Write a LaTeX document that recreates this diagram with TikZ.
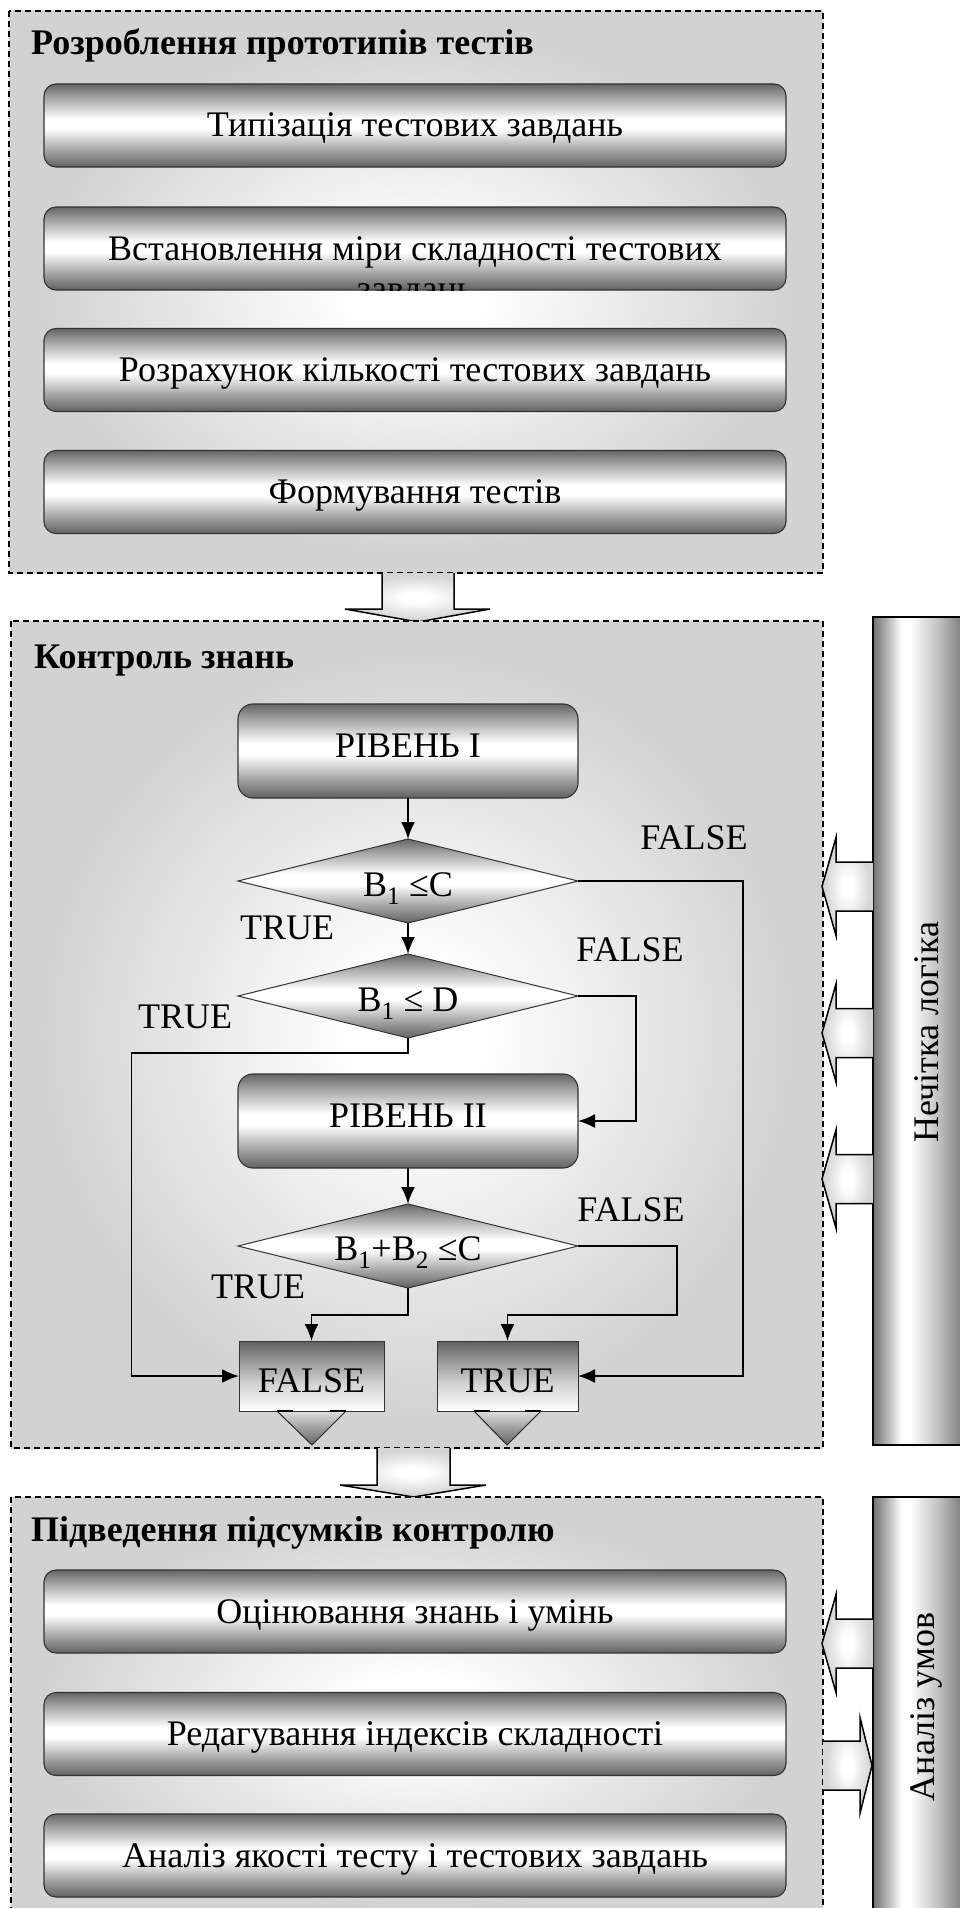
\documentclass[tikz,border=0pt]{standalone}
\usepackage{fontspec}
\setmainfont{Liberation Serif}
\usetikzlibrary{shapes.geometric,arrows.meta}
\definecolor{secgray}{RGB}{210,210,210}
\pgfdeclareverticalshading{cylv}{100bp}{color(0bp)=(black!62); color(25bp)=(black!62); color(35bp)=(black!36); color(48bp)=(white); color(54bp)=(white); color(66bp)=(black!33); color(75bp)=(black!60); color(100bp)=(black!60)}
\pgfdeclarehorizontalshading{barh}{100bp}{color(0bp)=(black!55); color(25bp)=(black!55); color(31bp)=(black!36); color(41bp)=(white); color(46bp)=(white); color(62bp)=(black!25); color(75bp)=(black!50); color(100bp)=(black!50)}
\pgfdeclareverticalshading{ftv}{100bp}{color(0bp)=(white); color(25bp)=(white); color(45bp)=(black!18); color(62bp)=(black!42); color(75bp)=(black!62); color(100bp)=(black!62)}
\pgfdeclareverticalshading{triv}{100bp}{color(0bp)=(black!62); color(25bp)=(black!62); color(75bp)=(black!13); color(100bp)=(black!13)}
\pgfdeclareradialshading{secrad}{\pgfpoint{0bp}{0bp}}{color(0bp)=(white); color(4bp)=(white); color(23bp)=(secgray); color(50bp)=(secgray)}
\pgfdeclareradialshading{arrrad}{\pgfpoint{0bp}{0bp}}{color(0bp)=(white); color(5bp)=(white); color(22bp)=(black!16); color(50bp)=(black!16)}
\tikzset{
 sec/.style={draw=black, line width=1.3pt, dash pattern=on 6pt off 4pt, shading=secrad},
 sectitle/.style={font=\fontsize{36}{42}\selectfont\bfseries, anchor=base west, inner sep=0pt},
 txt/.style={font=\fontsize{36}{42}\selectfont},
 cyl/.style={draw=black!80, line width=1.1pt, rounded corners=12pt, shading=cylv, minimum width=742pt, minimum height=83pt, inner sep=0pt, outer sep=0pt, txt, text height=23pt, text depth=0pt},
 lvl/.style={cyl, rounded corners=15pt, minimum width=340pt, minimum height=94pt, text height=22pt, text depth=10pt},
 dia/.style={diamond, draw=black!80, line width=1pt, shading=cylv, aspect=4, minimum width=340pt, minimum height=84pt, inner sep=0pt, outer sep=0pt, txt, text height=30pt, text depth=0pt},
 res/.style={draw=black!80, line width=1pt, shading=ftv, minimum height=70pt, inner sep=0pt, outer sep=0pt, txt, text height=32pt, text depth=0pt},
 lbl/.style={txt, inner sep=0pt},
 conn/.style={line width=1.8pt, -{Latex[length=17pt,width=14pt]}},
 blkline/.style={draw=black, line width=1.5pt},
 sidebar/.style={draw=black, line width=1.5pt, shading=barh, inner sep=0pt, outer sep=0pt},
 tri/.style={shading=triv},
}
\newcommand\lblk[1]{%
 \shade[shading=arrrad] (873,#1-24.5) -- (836,#1-24.5) -- (836,#1-49) -- (822,#1) -- (836,#1+49) -- (836,#1+24.5) -- (873,#1+24.5) -- cycle;
 \draw[blkline] (873,#1-24.5) -- (836,#1-24.5) -- (836,#1-49) -- (822,#1) -- (836,#1+49) -- (836,#1+24.5) -- (873,#1+24.5);}
\newcommand\rblk[1]{%
 \shade[shading=arrrad] (823,#1-24.5) -- (860,#1-24.5) -- (860,#1-48) -- (872,#1) -- (860,#1+48) -- (860,#1+24.5) -- (823,#1+24.5) -- cycle;
 \draw[blkline] (823,#1-24.5) -- (860,#1-24.5) -- (860,#1-48) -- (872,#1) -- (860,#1+48) -- (860,#1+24.5) -- (823,#1+24.5);}
\newcommand\dblk[5]{%
 \shade[shading=arrrad] (#1,#3) -- (#1,#4) -- ({#1-37},#4) -- ({(#1+#2)/2},#5) -- ({#2+36},#4) -- (#2,#4) -- (#2,#3) -- cycle;
 \draw[blkline] (#1,#3) -- (#1,#4) -- ({#1-37},#4) -- ({(#1+#2)/2},#5) -- ({#2+36},#4) -- (#2,#4) -- (#2,#3);}
\newcommand\tridown[5]{%
 \shade[tri] (#1,1411) -- (#4,1411) -- (#5,1445) -- cycle;
 \draw[line width=1pt, black!85] (#2,1411) -- (#1,1411) -- (#5,1445) -- (#4,1411) -- (#3,1411);}
\begin{document}
\begin{tikzpicture}[x=1pt,y=-1pt]
\useasboundingbox (0,0) rectangle (959,1908);
% ---------- section 1
\draw[sec] (9,11) rectangle (823,573);
\node[sectitle] (t1) at (31,55) {Розроблення прототипів тестів};
\node[cyl] (b1) at (415,125.5) {Типізація тестових завдань};
\node[cyl] (b2) at (415,248.5) {Встановлення міри складності тестових};
\begin{scope}
 \clip[rounded corners=12pt] (44,207) rectangle (786,290);
 \node[txt, anchor=base, inner sep=0pt] (b2x) at (415,300) {завдань};
\end{scope}
\node[cyl] (b3) at (415,370) {Розрахунок кількості тестових завдань};
\node[cyl] (b4) at (415,492) {Формування тестів};
% arrow 1 -> 2
\dblk{382}{454}{573}{609}{622}
% ---------- section 2
\draw[sec] (11,621) rectangle (823,1448);
\node[sectitle] (t2) at (34,668) {Контроль знань};
\node[lvl] (r1) at (408,751) {РІВЕНЬ I};
\node[dia] (d1) at (408,881) {B\textsubscript{1} ≤C};
\node[dia] (d2) at (408,996) {B\textsubscript{1} ≤ D};
\node[lvl] (r2) at (408,1121) {РІВЕНЬ II};
\node[dia, text height=28pt] (d3) at (408,1246) {B\textsubscript{1}+B\textsubscript{2} ≤C};
\tridown{277}{293}{330}{346}{312}
\tridown{474}{490}{525}{541}{507}
\node[res, minimum width=145pt] (fb) at (311.5,1376) {FALSE};
\node[res, minimum width=141pt] (tb) at (507.5,1376) {TRUE};
\draw[line width=1.6pt] (277,1411) -- (293,1411) (330,1411) -- (346,1411) (474,1411) -- (490,1411) (525,1411) -- (541,1411);
\node[lbl] (l1) at (694,837.5) {FALSE};
\node[lbl] (l2) at (287,928) {TRUE};
\node[lbl] (l3) at (630,950) {FALSE};
\node[lbl] (l4) at (185,1017) {TRUE};
\node[lbl] (l5) at (631,1210) {FALSE};
\node[lbl] (l6) at (258,1287) {TRUE};
\coordinate (k1) at (743,1000);
\coordinate (k2) at (636,1050);
\coordinate (k3) at (131.5,1053);
\coordinate (k4) at (677,1315);
\coordinate (k5) at (311.5,1315);
\draw[conn] (r1.south) -- (d1.north);
\draw[conn] (d1.south) -- (d2.north);
\draw[conn] (d1.east) -| (k1) |- (tb.east);
\draw[conn] (d2.east) -| (k2) |- (r2.east);
\draw[conn] (d2.south) |- (k3) |- (fb.west);
\draw[conn] (r2.south) -- (d3.north);
\draw[conn] (d3.east) -| (k4) -| (tb.north);
\draw[conn] (d3.south) |- (k5) -- (fb.north);
% side bar 1
\node[sidebar, minimum width=89pt, minimum height=828pt] (bar1) at (917.5,1031) {};
\node[txt, rotate=90] (bar1t) at (927,1032) {Нечітка логіка};
\lblk{886.5}
\lblk{1033}
\lblk{1179}
% arrow 2 -> 3
\dblk{377}{450}{1448}{1485}{1497}
% ---------- section 3
\draw[sec] (11,1497) rectangle (823,1925);
\node[sectitle] (t3) at (31,1541) {Підведення підсумків контролю};
\node[cyl] (c1) at (415,1611.5) {Оцінювання знань і умінь};
\node[cyl] (c2) at (415,1734) {Редагування індексів складності};
\node[cyl] (c3) at (415,1855.5) {Аналіз якості тесту і тестових завдань};
\node[sidebar, minimum width=89pt, minimum height=428pt] (bar2) at (917.5,1711) {};
\node[txt, rotate=90] (bar2t) at (926,1707) {Аналіз умов};
\lblk{1643.5}
\rblk{1765.5}
\end{tikzpicture}
\end{document}
